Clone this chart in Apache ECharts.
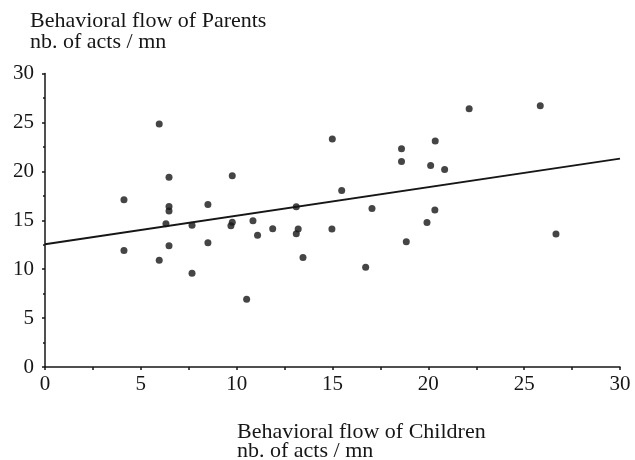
<!DOCTYPE html>
<html><head><meta charset="utf-8">
<script src="https://cdn.jsdelivr.net/npm/echarts@6/dist/echarts.min.js"></script>
<style>html,body{margin:0;padding:0;background:#fff}#c{width:635px;height:460px}</style>
</head><body><div id="c"></div>
<script>
const childrenFlow = [4.12,4.12,5.96,5.96,6.47,6.47,6.47,6.31,6.47,7.67,7.67,8.5,8.5,9.77,9.77,9.7,10.52,10.85,11.09,11.88,13.11,13.21,13.11,13.46,14.99,14.97,15.48,17.06,16.73,18.6,18.6,18.85,19.93,20.12,20.36,20.34,20.85,22.13,25.84,26.66];
const parentsFlow = [17.1,11.9,24.85,10.9,19.4,16.4,15.95,14.65,12.4,14.5,9.58,16.6,12.7,19.56,14.8,14.45,6.92,14.96,13.46,14.14,16.39,14.1,13.63,11.18,23.3,14.1,18.03,16.2,10.19,22.3,21.0,12.8,14.76,20.6,23.1,16.05,20.18,26.4,26.7,13.6];
const fitX = [0, 30];
const fitY = [12.55, 21.3];
const xTicks = [0,5,10,15,20,25,30];
const yTicks = [0,5,10,15,20,25,30];
const xTitle = ['Behavioral flow of Children','nb. of acts / mn'];
const yTitle = ['Behavioral flow of Parents','nb. of acts / mn'];

const font = 'Liberation Serif';
const ink = '#161616';
const chart = echarts.init(document.getElementById('c'), null, {renderer:'canvas'});
chart.setOption({
  backgroundColor:'#fff',
  animation:false,
  grid:{left:45,right:15,top:73.5,bottom:93,containLabel:false},
  xAxis:{type:'value',min:xTicks[0],max:xTicks[xTicks.length-1],interval:5,
    axisLine:{lineStyle:{color:ink,width:1.5}},
    axisTick:{show:true,inside:false,length:3,lineStyle:{color:ink,width:1.5}},
    minorTick:{show:true,splitNumber:2,length:3,lineStyle:{color:ink,width:1.5}},
    splitLine:{show:false},
    axisLabel:{color:ink,fontFamily:font,fontSize:21,margin:7}},
  yAxis:{type:'value',min:yTicks[0],max:yTicks[yTicks.length-1],interval:5,
    axisLine:{show:true,lineStyle:{color:ink,width:1.5}},
    axisTick:{show:true,inside:false,length:3,lineStyle:{color:ink,width:1.5}},
    minorTick:{show:true,splitNumber:2,length:2,lineStyle:{color:ink,width:1.5}},
    splitLine:{show:false},
    axisLabel:{color:ink,fontFamily:font,fontSize:21,margin:11}},
  graphic:[
    {type:'text',left:30,top:10,style:{text:yTitle.join('\n'),font:'22px "Liberation Serif"',fill:ink,lineHeight:21}},
    {type:'text',left:237,top:421,style:{text:xTitle.join('\n'),font:'22px "Liberation Serif"',fill:ink,lineHeight:19}}
  ],
  series:[
    {type:'scatter',data:childrenFlow.map((x,i)=>[x,parentsFlow[i]]),symbolSize:7,itemStyle:{color:ink}},
    {type:'line',data:fitX.map((x,i)=>[x,fitY[i]]),showSymbol:false,lineStyle:{color:ink,width:2}}
  ]
});
</script></body></html>
